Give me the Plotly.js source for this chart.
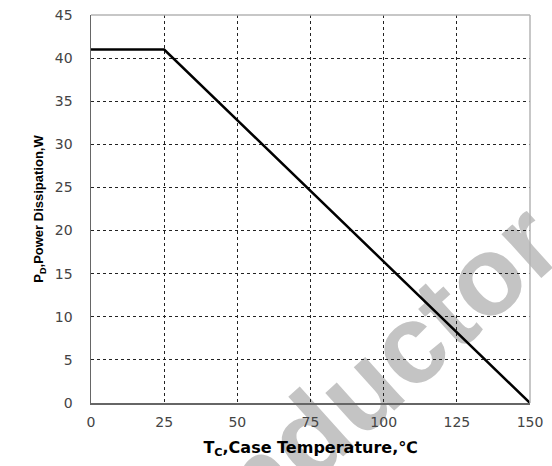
<!DOCTYPE html>
<html><head><meta charset="utf-8">
<script src="https://cdn.plot.ly/plotly-3.0.1.min.js"></script>
<style>html,body{margin:0;padding:0;background:#fff}#plot{width:552px;height:466px}</style>
</head><body><div id="plot"></div>
<script>
const tempC = [0, 25, 150];
const powerW = [41, 41, 0];
const xTicks = [0, 25, 50, 75, 100, 125, 150];
const yTicks = [0, 5, 10, 15, 20, 25, 30, 35, 40, 45];

const trace = {x: tempC, y: powerW, mode: 'lines', line: {color: '#000', width: 2.5}, hoverinfo: 'skip', showlegend: false};
const tickFont = {family: 'DejaVu Sans, Arial', size: 14, color: '#444'};
const axisCommon = {showgrid: true, gridcolor: '#222', griddash: 'dot', gridwidth: 1, zeroline: false,
  showline: true, linecolor: '#666', linewidth: 1.5, ticks: '', tickfont: tickFont};
const layout = {
  width: 552, height: 466, paper_bgcolor: '#fff', plot_bgcolor: '#fff',
  margin: {l: 91, r: 22, t: 15, b: 63},
  xaxis: Object.assign({}, axisCommon, {range: [0, 150], tickvals: xTicks, ticktext: xTicks.map(String), ticklabelstandoff: 6,
    title: {text: 'T<sub>C</sub>,Case Temperature,℃', font: {family: 'DejaVu Sans, Arial', size: 16, color: '#000', weight: 'bold'}, standoff: 12}}),
  yaxis: Object.assign({}, axisCommon, {range: [0, 45], tickvals: yTicks, ticktext: yTicks.map(String), ticklabelstandoff: 14,
    title: {text: 'P<sub>D</sub>,Power Dissipation,W', font: {family: 'Liberation Sans, Arial', size: 13, color: '#000', weight: 'bold'}, standoff: 8}}),
  shapes: [
    {type: 'rect', xref: 'paper', yref: 'paper', x0: 0.37, x1: 0.83, y0: -0.11, y1: 0.23, layer: 'between',
      line: {width: 0, color: 'rgba(0,0,0,0)'}, fillcolor: 'rgba(0,0,0,0)',
      label: {text: 'onductor', textangle: -42, textposition: 'middle center',
        font: {family: 'Liberation Sans, Arial', size: 112, weight: 'bold', color: '#c4c4c4'}}},
    {type: 'line', xref: 'paper', yref: 'paper', x0: 0, x1: 1, y0: 1, y1: 1, line: {color: '#b5b5b5', width: 1.5}},
    {type: 'line', xref: 'paper', yref: 'paper', x0: 1, x1: 1, y0: 0, y1: 1, line: {color: '#b5b5b5', width: 1.5}}
  ]
};
Plotly.newPlot('plot', [trace], layout, {staticPlot: true, displayModeBar: false});
</script></body></html>
